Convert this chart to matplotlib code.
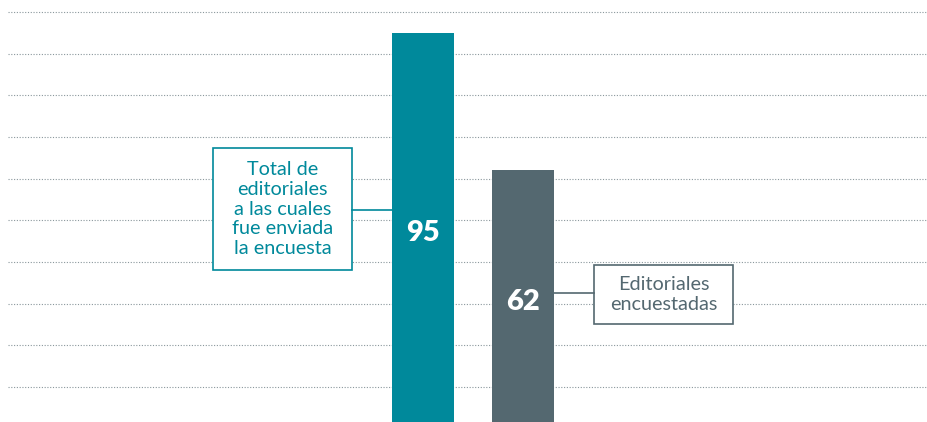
import matplotlib.pyplot as plt
from matplotlib.patches import Rectangle

plt.rcParams['font.family'] = ['Lato', 'DejaVu Sans']

categories = ["Total de\neditoriales\na las cuales\nfue enviada\nla encuesta", "Editoriales\nencuestadas"]
values = [95, 62]
grid_levels = [10, 20, 30, 40, 50, 60, 70, 80, 90, 100]

teal = (0/255, 137/255, 155/255)
slate = (84/255, 104/255, 112/255)
colors = [teal, slate]

fig = plt.figure(figsize=(9.27, 4.22), dpi=100)
ax = fig.add_axes([0, 0, 1, 1])
ax.set_xlim(-4.23, 5.04)
ax.set_ylim(1.6, 102.88)
ax.axis("off")

# dotted guide lines
ax.hlines(grid_levels, -4.15, 5.04, colors="#8a979c", linestyles=(0, (1, 1.5)),
          linewidth=0.8, zorder=1)

xs = range(len(values))
ax.bar(xs, values, width=0.62, color=colors, zorder=2)
for x, v in zip(xs, values):
    ax.text(x, v / 2 - 0.6, str(v), ha="center", va="center", color="white",
            fontsize=21, fontweight="heavy", zorder=3)

# callout boxes (axes fraction)
boxes = [
    dict(x0=0.2298, y0=0.360, w=0.150, h=0.289, line=(0.3797, 0.4229, 0.5024)),
    dict(x0=0.6408, y0=0.2322, w=0.150, h=0.1398, line=(0.5976, 0.6408, 0.3057)),
]
for b, label, c in zip(boxes, categories, colors):
    ax.add_patch(Rectangle((b["x0"], b["y0"]), b["w"], b["h"], transform=ax.transAxes,
                           facecolor="white", edgecolor=c, linewidth=1.2, zorder=4))
    ax.text(b["x0"] + b["w"] / 2, b["y0"] + b["h"] / 2, label, transform=ax.transAxes,
            ha="center", va="center", color=c, fontsize=14.3, linespacing=1.2, zorder=5)
    x1, x2, y = b["line"]
    ax.plot([x1, x2], [y, y], transform=ax.transAxes, color=c, linewidth=1.2, zorder=4)

fig.savefig("out.png", dpi=100)
